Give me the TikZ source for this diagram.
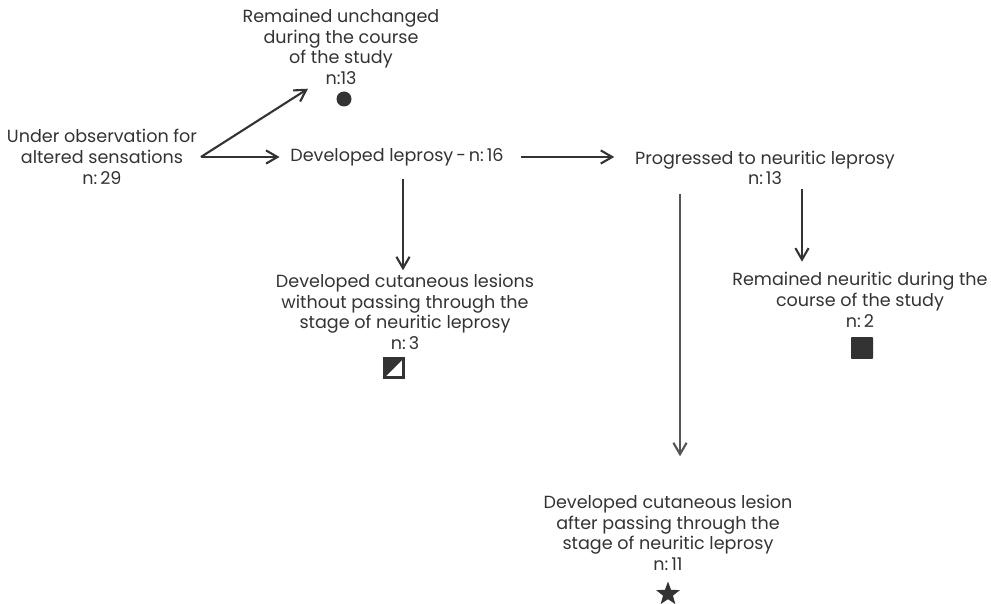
\documentclass[tikz,border=0pt]{standalone}
\usepackage{fontspec}
\setmainfont{Poppins}
\usepackage{tikz}
\usetikzlibrary{arrows.meta,positioning,shapes.geometric}
\definecolor{inkgray}{RGB}{51, 51, 51}
\definecolor{stemgray}{RGB}{85, 85, 85}

\begin{document}
\begin{tikzpicture}[
    x=0.02cm, y=-0.02cm,
    every node/.style={align=center},
    txt/.style={font=\fontsize{10}{11.8}\selectfont, text=inkgray, inner sep=2pt},
    arr/.style={draw=inkgray, line width=1.2pt, -{Straight Barb[length=6.5pt,width=7.5pt]}},
    dotmark/.style={circle, fill=inkgray, minimum size=0.3cm, inner sep=0pt},
    boxmark/.style={rectangle, rounded corners=0.5pt, fill=inkgray, minimum size=0.44cm, inner sep=0pt},
    halfmark/.style={rectangle, draw=inkgray, line width=1.3pt, minimum size=0.38cm, inner sep=0pt,
        path picture={\fill[inkgray] (path picture bounding box.north west) -- (path picture bounding box.north east) -- (path picture bounding box.south west) -- cycle;}},
    starmark/.style={star, star points=5, star point ratio=2.4, fill=inkgray, minimum size=0.5cm, inner sep=0pt}
]
\useasboundingbox (0,0) rectangle (991,604);

% Main nodes
\node[txt] (start) at (102,157) {Under observation for\\altered sensations\\n:\,29};
\node[txt] (unch) at (341,47) {Remained unchanged\\during the course\\of the study\\n:13};
\node[txt] (lep) at (397,157) {Developed leprosy\,-\,n:\,16};
\node[txt] (neur) at (765,168) {Progressed to neuritic leprosy\\n:\,13};
\node[txt] (cutno) at (405,312) {Developed cutaneous lesions\\without passing through the\\stage of neuritic leprosy\\n:\,3};
\node[txt] (remneur) at (860,300) {Remained neuritic during the\\course of the study\\n:\,2};
\node[txt] (cutyes) at (668,533) {Developed cutaneous lesion\\after passing through the\\stage of neuritic leprosy\\n:\,11};

% Markers
\node[dotmark] (unchsym) at (344,99) {};
\node[halfmark] (cutnosym) at (394,368) {};
\node[boxmark] (remneursym) at (862,348) {};
\node[starmark] (cutyessym) at (668,594) {};

% Connections
\draw[arr] (start.east) -- ([xshift=-0.66cm]unch.south);
\draw[arr, shorten >=0.14cm] (start.east) -- (start.east -| lep.west);
\draw[arr, shorten <=0.28cm, shorten >=0.34cm] (lep.east) -- (lep.east -| neur.west);
\draw[arr, shorten >=0.18cm] ([xshift=0.12cm, yshift=-0.18cm]lep.south) -- ([xshift=0.12cm, yshift=-0.18cm]lep.south |- cutno.north);
\draw[arr, draw=stemgray, shorten >=0.7cm] ([xshift=0.24cm, yshift=-0.1cm]cutyes.north |- neur.south) -- ([xshift=0.24cm]cutyes.north);
\draw[arr, shorten >=0.14cm] ([xshift=0.74cm]neur.south) -- ([xshift=0.74cm]neur.south |- remneur.north);

\end{tikzpicture}
\end{document}
